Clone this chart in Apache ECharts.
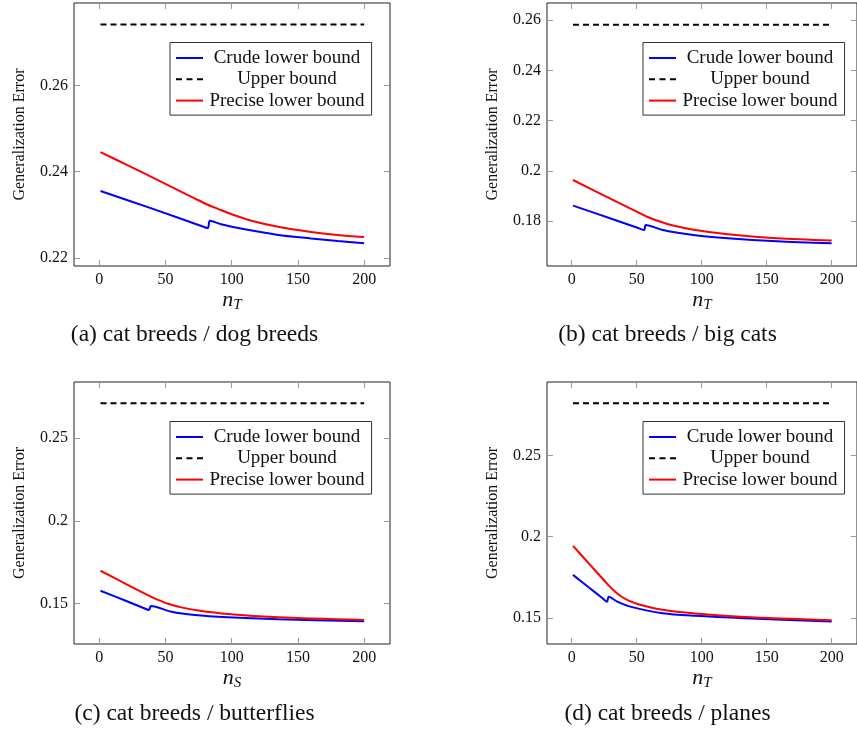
<!DOCTYPE html>
<html>
<head>
<meta charset="utf-8">
<script src="https://cdn.jsdelivr.net/npm/echarts@6/dist/echarts.min.js"></script>
<style>
html,body{margin:0;padding:0;background:#fff;}
#chart{width:857px;height:734px;}
</style>
</head>
<body>
<div id="chart"></div>
<script>
// ---- data ----
const legendNames = ['Crude lower bound', 'Upper bound', 'Precise lower bound'];
const captions = ['(a) cat breeds / dog breeds', '(b) cat breeds / big cats', '(c) cat breeds / butterflies', '(d) cat breeds / planes'];
const xAxisNames = ['T', 'T', 'S', 'T'];
const xTicks = [0, 50, 100, 150, 200];

const aYTicks = [0.22, 0.24, 0.26];
const bYTicks = [0.18, 0.2, 0.22, 0.24, 0.26];
const cYTicks = [0.15, 0.2, 0.25];
const dYTicks = [0.15, 0.2, 0.25];

// (a) cat breeds / dog breeds
const aCrude = [[1,0.2355],[40,0.2314],[76,0.2275],[82,0.2269],[83.5,0.2286],[92,0.2278],[110,0.2266],[135,0.2253],[160,0.2245],[180,0.2239],[200,0.2234]];
const aUpper = [[1,0.2741],[200,0.2741]];
const aPrecise = [[1,0.2445],[22,0.2414],[47,0.2376],[72,0.2338],[82,0.2323],[90,0.2313],[100,0.2301],[115,0.2286],[135,0.2272],[160,0.2260],[180,0.2253],[200,0.2248]];

// (b) cat breeds / big cats
const bCrude = [[1,0.1862],[30,0.1811],[50,0.1775],[55.7,0.1765],[57,0.1785],[70,0.1765],[95,0.1744],[120,0.1732],[158,0.1720],[200,0.1712]];
const bUpper = [[1,0.2581],[200,0.2581]];
const bPrecise = [[1,0.1964],[25,0.1902],[50,0.1838],[58,0.1818],[66,0.1802],[78,0.1783],[95,0.1765],[120,0.1748],[158,0.1732],[200,0.1723]];

// (c) cat breeds / butterflies
const cCrude = [[1,0.1578],[20,0.1518],[33,0.1476],[37.7,0.1462],[39,0.1486],[54.6,0.1452],[72,0.1432],[97,0.1418],[135,0.1406],[200,0.1394]];
const cUpper = [[1,0.2710],[200,0.2710]];
const cPrecise = [[1,0.1699],[20,0.1620],[37,0.1551],[44,0.1525],[52,0.1500],[62,0.1478],[75,0.1459],[97,0.1438],[135,0.1418],[200,0.1402]];

// (d) cat breeds / planes
const dCrude = [[1,0.1765],[14,0.1683],[23,0.1626],[27.2,0.1600],[28.5,0.1631],[35,0.1600],[45,0.1570],[70,0.1529],[95,0.1513],[133,0.1498],[200,0.1478]];
const dUpper = [[1,0.2820],[200,0.2820]];
const dPrecise = [[1,0.1943],[14,0.1828],[27,0.1713],[32,0.1672],[37,0.1638],[43,0.1610],[52,0.1583],[70,0.1550],[95,0.1527],[133,0.1506],[200,0.1486]];

// ---- layout ----
const FONT = 'Liberation Serif';
const panels = [
  {crude:aCrude, upper:aUpper, precise:aPrecise, yTicks:aYTicks, left:74,  top:3,   height:263, ymin:0.2181, ymax:0.2791, capX:194.5, capY:323},
  {crude:bCrude, upper:bUpper, precise:bPrecise, yTicks:bYTicks, left:547, top:3,   height:263, ymin:0.1622, ymax:0.2668, capX:667.5, capY:323},
  {crude:cCrude, upper:cUpper, precise:cPrecise, yTicks:cYTicks, left:74,  top:382, height:262, ymin:0.1257, ymax:0.2838, capX:194.5, capY:702},
  {crude:dCrude, upper:dUpper, precise:dPrecise, yTicks:dYTicks, left:547, top:382, height:262, ymin:0.1340, ymax:0.2951, capX:667.5, capY:702}
];

const solidIcon = 'path://M0,0H27V2H0Z';
const dashIcon = 'path://M0,0H6V2H0Z M10.5,0H16.5V2H10.5Z M21,0H27V2H21Z';

const tickStyle = {show:true, inside:true, length:6, lineStyle:{color:'#999', width:1}};
const grid = [], xAxis = [], yAxis = [], series = [], legend = [], title = [];

panels.forEach((p, i) => {
  grid.push({left:p.left, top:p.top, width:316, height:p.height, show:true, borderColor:'#222', borderWidth:1, backgroundColor:'transparent'});
  const xi = xAxis.length, yi = yAxis.length;
  xAxis.push({
    type:'value', gridIndex:i, min:-19, max:219.5, position:'bottom',
    axisLine:{show:false, onZero:false}, splitLine:{show:false},
    axisTick:Object.assign({customValues:xTicks}, tickStyle),
    axisLabel:{customValues:xTicks, fontFamily:FONT, fontSize:16, color:'#111', margin:6},
    name:'{n|n}{s|' + xAxisNames[i] + '}', nameLocation:'middle', nameGap:20,
    nameTextStyle:{rich:{
      n:{fontFamily:FONT, fontStyle:'italic', fontSize:22, color:'#111'},
      s:{fontFamily:FONT, fontStyle:'italic', fontSize:15, color:'#111', padding:[10,0,0,0]}
    }}
  });
  xAxis.push({
    type:'value', gridIndex:i, min:-19, max:219.5, position:'top',
    axisLine:{show:false, onZero:false}, splitLine:{show:false}, axisLabel:{show:false},
    axisTick:Object.assign({customValues:xTicks}, tickStyle)
  });
  yAxis.push({
    type:'value', gridIndex:i, min:p.ymin, max:p.ymax, position:'left',
    axisLine:{show:false, onZero:false}, splitLine:{show:false},
    axisTick:Object.assign({customValues:p.yTicks}, tickStyle),
    axisLabel:{customValues:p.yTicks, fontFamily:FONT, fontSize:16, color:'#111', margin:6,
      formatter:v => String(+(+v).toFixed(2))},
    name:'Generalization Error', nameLocation:'middle', nameGap:46, nameRotate:90,
    nameTextStyle:{fontFamily:FONT, fontSize:16, color:'#111'}
  });
  yAxis.push({
    type:'value', gridIndex:i, min:p.ymin, max:p.ymax, position:'right',
    axisLine:{show:false, onZero:false}, splitLine:{show:false}, axisLabel:{show:false},
    axisTick:Object.assign({customValues:p.yTicks}, tickStyle)
  });
  const common = {type:'line', xAxisIndex:xi, yAxisIndex:yi, symbol:'none', showSymbol:false, silent:true, animation:false};
  series.push(Object.assign({name:legendNames[0], data:p.crude, smooth:0.3, lineStyle:{color:'#0000ff', width:2}, itemStyle:{color:'#0000ff'}}, common));
  series.push(Object.assign({name:legendNames[1], data:p.upper, lineStyle:{color:'#000', width:2, type:[6,4]}, itemStyle:{color:'#000'}}, common));
  series.push(Object.assign({name:legendNames[2], data:p.precise, smooth:0.3, lineStyle:{color:'#ff0000', width:2}, itemStyle:{color:'#ff0000'}}, common));
  legend.push({
    data:[
      {name:legendNames[0], icon:solidIcon},
      {name:legendNames[1], icon:dashIcon},
      {name:legendNames[2], icon:solidIcon}
    ],
    orient:'vertical', left:p.left + 96, top:p.top + 39.5,
    itemWidth:27, itemHeight:2, itemGap:2.3, padding:[6,7,5,6],
    borderColor:'#333', borderWidth:1, backgroundColor:'#fff', borderRadius:0,
    selectedMode:false,
    formatter:name => '{t|' + name + '}',
    textStyle:{rich:{t:{width:158, align:'center', fontFamily:FONT, fontSize:19, color:'#111'}}}
  });
  title.push({
    text:captions[i], left:p.capX, top:p.capY, textAlign:'center', padding:0,
    textStyle:{fontFamily:FONT, fontSize:23.5, fontWeight:'normal', color:'#111'}
  });
});

const chart = echarts.init(document.getElementById('chart'), null, {renderer:'canvas'});
chart.setOption({animation:false, backgroundColor:'#fff', title, grid, xAxis, yAxis, series, legend});
</script>
</body>
</html>
